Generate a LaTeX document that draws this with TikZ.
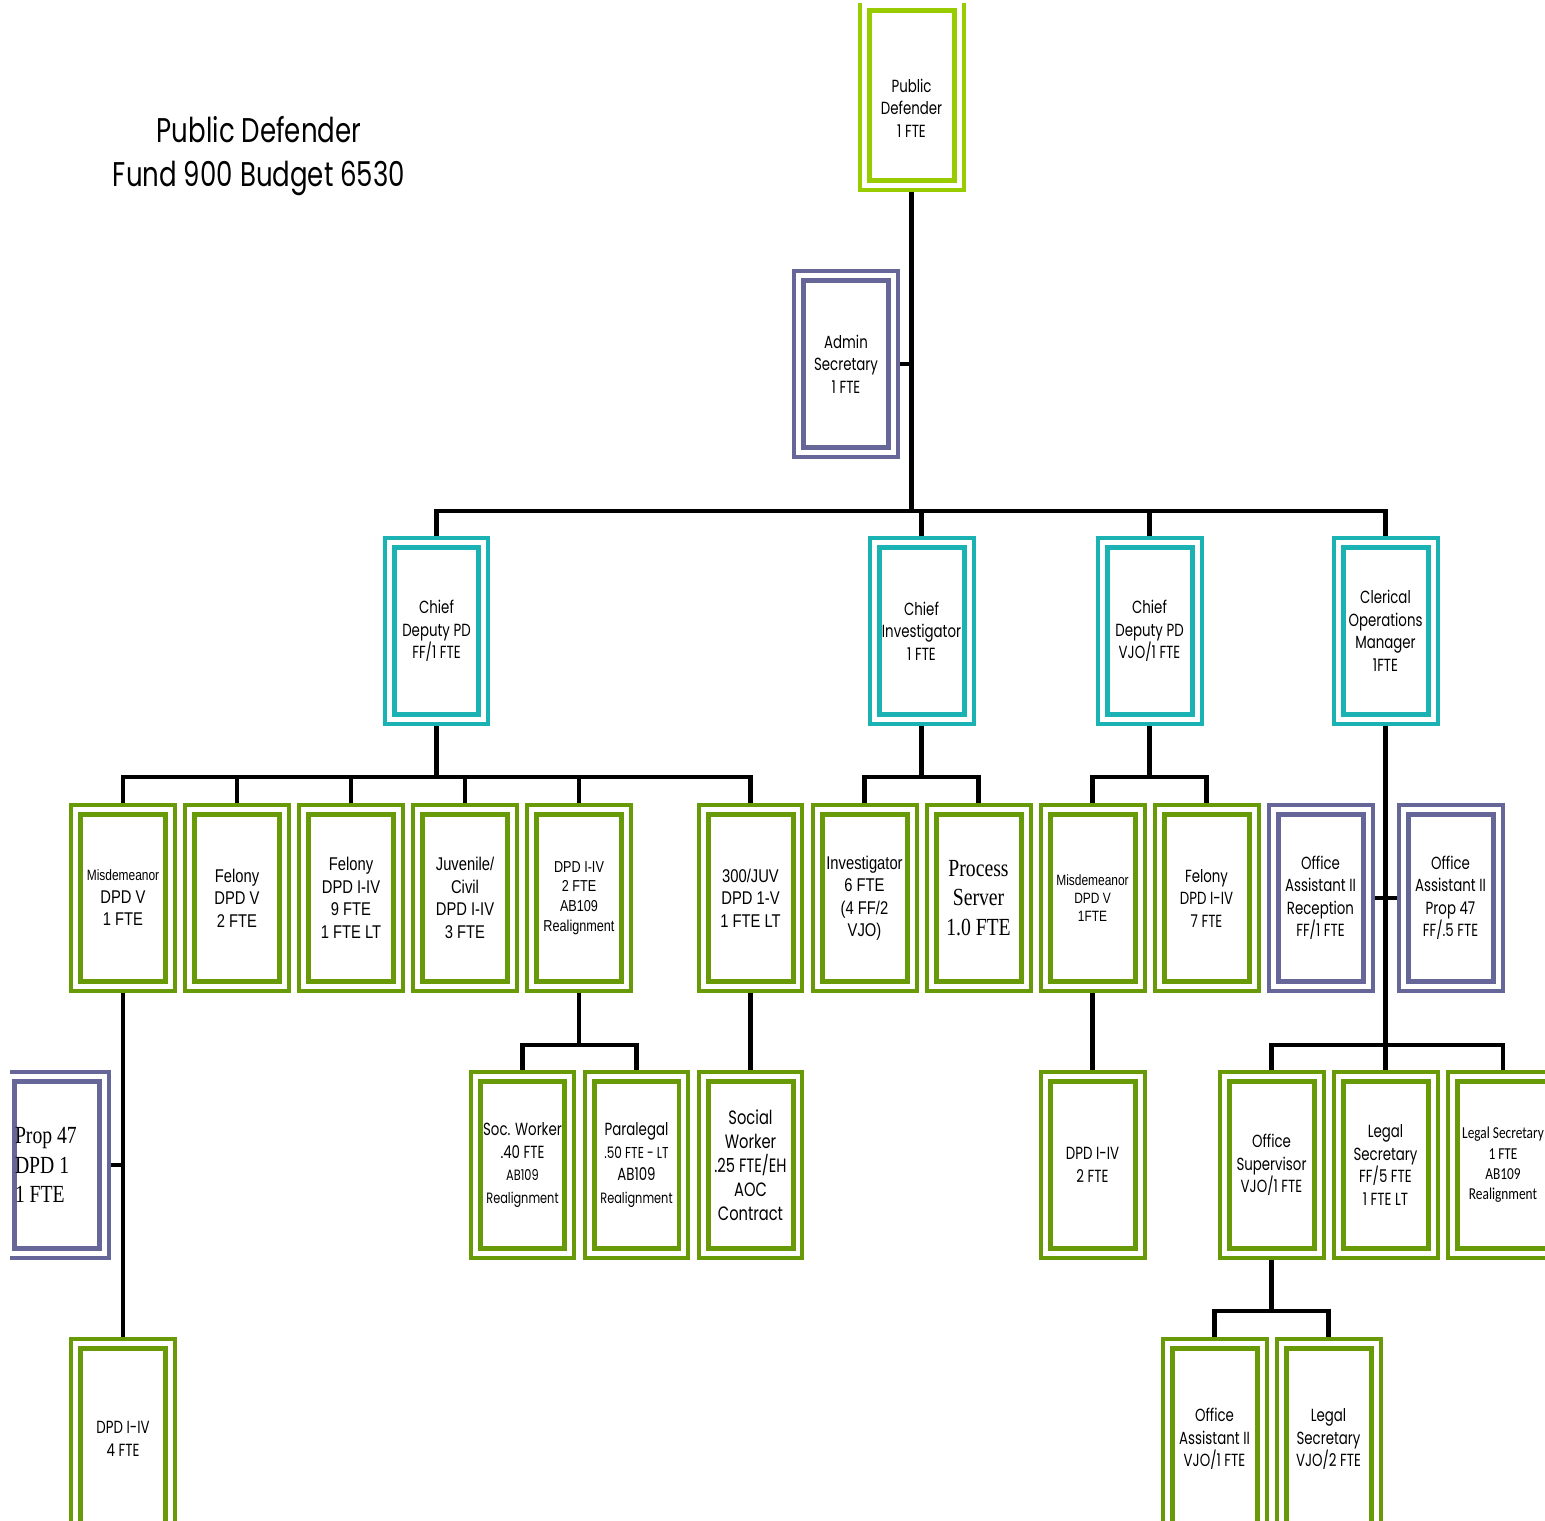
\documentclass[tikz,border=0pt]{standalone}
\usepackage{fontspec}
\newfontfamily\gothic[FakeStretch=0.76]{Poppins}
\newfontfamily\arialn[FakeStretch=0.8]{Liberation Sans}
\newfontfamily\timesn[FakeStretch=0.8]{Liberation Serif}
\newfontfamily\calib[FakeStretch=0.8]{Carlito}
\definecolor{pdgreen}{RGB}{153,204,0}
\definecolor{leaf}{RGB}{104,154,8}
\definecolor{chiefteal}{RGB}{26,178,178}
\definecolor{clerk}{RGB}{102,102,153}
\begin{document}
\begin{tikzpicture}[x=0.02cm, y=-0.02cm,
    post/.style={rectangle, draw=#1, fill=white, line width=0.08cm,
      minimum width=2.08cm, minimum height=3.72cm, inner sep=0pt, align=center,
      path picture={\draw[#1, line width=0.1cm]
        ([shift={(0.19cm,0.19cm)}]path picture bounding box.south west) rectangle
        ([shift={(-0.19cm,-0.19cm)}]path picture bounding box.north east);}},
    link/.style={line width=0.09cm},
    gf/.style={font=\gothic\fontsize{10}{12.8}\selectfont},
    af/.style={font=\arialn\fontsize{10.5}{12.8}\selectfont},
    tf/.style={font=\timesn\fontsize{14}{17}\selectfont},
    cf/.style={font=\calib\fontsize{9.5}{11.6}\selectfont}]
    \useasboundingbox (0,0) rectangle (1545,1521);
    \clip (10,3) rectangle (1545,1521);

    \node[align=center, font=\gothic\fontsize{19.5}{25}\selectfont] (title) at (259,156) {Public Defender\\Fund 900 Budget 6530};

    % head and chiefs
    \node[post=pdgreen, gf, minimum height=3.78cm] (pd) at (911.5,95.5) {\rule{0pt}{22pt}Public\\Defender\\1 FTE};
    \node[post=clerk, gf] (admin) at (846,364) {Admin\\Secretary\\1 FTE};
    \node[post=chiefteal, gf] (cdff) at (436.5,631) {Chief\\Deputy PD\\FF/1 FTE};
    \node[post=chiefteal, gf] (cinv) at (921.5,631) {Chief\\Investigator\\1 FTE};
    \node[post=chiefteal, gf] (cdvjo) at (1149.5,631) {Chief\\Deputy PD\\VJO/1 FTE};
    \node[post=chiefteal, gf] (com) at (1385.5,631) {Clerical\\Operations\\Manager\\1FTE};

    % third row
    \node[post=leaf, af] (misd) at (123,898) {{\fontsize{8.5}{11}\selectfont Misdemeanor}\\DPD V\\1 FTE};
    \node[post=leaf, af] (feldv) at (237,898) {Felony\\DPD V\\2 FTE};
    \node[post=leaf, af] (feldi) at (351,898) {Felony\\DPD I-IV\\9 FTE\\1 FTE LT};
    \node[post=leaf, af] (juv) at (465,898) {Juvenile/\\Civil\\DPD I-IV\\3 FTE};
    \node[post=leaf, af, font=\arialn\fontsize{9}{11.3}\selectfont] (dpdab) at (579,898) {DPD I-IV\\2 FTE\\AB109\\Realignment};
    \node[post=leaf, af] (juv300) at (750.5,898) {300/JUV\\DPD 1-V\\1 FTE LT};
    \node[post=leaf, af] (inv) at (864.5,898) {Investigator\\6 FTE\\(4 FF/2\\VJO)};
    \node[post=leaf, tf] (ps) at (978.5,898) {Process\\Server\\1.0 FTE};
    \node[post=leaf, af, font=\arialn\fontsize{8.5}{10.2}\selectfont] (misdvjo) at (1092.5,898) {Misdemeanor\\DPD V\\1FTE};
    \node[post=leaf, gf] (felvjo) at (1206.5,898) {Felony\\DPD I-IV\\7 FTE};
    \node[post=clerk, gf] (oarec) at (1320.5,898) {Office\\Assistant II\\Reception\\FF/1 FTE};
    \node[post=clerk, gf] (oap47) at (1450.5,898) {Office\\Assistant II\\Prop 47\\FF/.5 FTE};

    % fourth row
    \node[post=clerk, tf, align=left, text width=1.68cm] (p47) at (57,1165) {\spaceskip=0pt Prop 47\\DPD 1\\1 FTE};
    \node[post=leaf, gf] (sw) at (522.5,1165) {Soc. Worker\\.40 FTE\\{\fontsize{8.5}{11}\selectfont AB109}\\{\fontsize{8.5}{11}\selectfont Realignment}};
    \node[post=leaf, gf] (para) at (636.5,1165) {Paralegal\\{\fontsize{9}{11}\selectfont .50 FTE - LT}\\AB109\\{\fontsize{8.5}{11}\selectfont Realignment}};
    \node[post=leaf, gf, font=\gothic\fontsize{11}{13.6}\selectfont] (socw) at (750.5,1165) {Social\\Worker\\.25 FTE/EH\\AOC\\Contract};
    \node[post=leaf, gf] (dpd2) at (1092.5,1165) {DPD I-IV\\2 FTE};
    \node[post=leaf, gf] (os) at (1271.5,1165) {Office\\Supervisor\\VJO/1 FTE};
    \node[post=leaf, gf] (lsff) at (1385.5,1165) {Legal\\Secretary\\FF/5 FTE\\1 FTE LT};
    \node[post=leaf, cf, minimum width=2.2cm] (lsab) at (1503,1165) {Legal Secretary\\1 FTE\\AB109\\Realignment};

    % bottom row
    \node[post=leaf, gf, minimum height=4cm] (dpd4) at (123,1439) {DPD I-IV\\4 FTE};
    \node[post=leaf, gf, minimum height=4cm] (oavjo) at (1214.5,1439) {Office\\Assistant II\\VJO/1 FTE};
    \node[post=leaf, gf, minimum height=4cm] (lsvjo) at (1328.5,1439) {Legal\\Secretary\\VJO/2 FTE};

    % connectors
    \coordinate (b1) at (911.5,511);
    \draw[link] (pd.south) -- (b1);
    \foreach \c in {cdff,cinv,cdvjo,com} \draw[link] (b1) -| (\c.north);
    \draw[link] (admin.east) -- (admin.east -| pd.south);

    \coordinate (b2) at (436.5,777);
    \draw[link] (cdff.south) -- (b2);
    \foreach \c in {misd,feldv,feldi,juv,dpdab,juv300} \draw[link] (b2) -| (\c.north);
    \coordinate (b3) at (921.5,777);
    \draw[link] (cinv.south) -- (b3);
    \foreach \c in {inv,ps} \draw[link] (b3) -| (\c.north);
    \coordinate (b4) at (1149.5,777);
    \draw[link] (cdvjo.south) -- (b4);
    \foreach \c in {misdvjo,felvjo} \draw[link] (b4) -| (\c.north);
    \coordinate (b5) at (1385.5,1045);
    \draw[link] (com.south) -- (b5);
    \foreach \c in {os,lsff,lsab} \draw[link] (b5) -| (\c.north);
    \draw[link] (oarec.east) -- (oap47.west);

    \coordinate (b6) at (579,1045);
    \draw[link] (dpdab.south) -- (b6);
    \foreach \c in {sw,para} \draw[link] (b6) -| (\c.north);
    \draw[link] (juv300.south) -- (socw.north);
    \draw[link] (misdvjo.south) -- (dpd2.north);
    \draw[link] (misd.south) -- (dpd4.north);
    \draw[link] (p47.east) -- (p47.east -| misd.south);
    \coordinate (b7) at (1271.5,1311);
    \draw[link] (os.south) -- (b7);
    \foreach \c in {oavjo,lsvjo} \draw[link] (b7) -| (\c.north);
\end{tikzpicture}
\end{document}
